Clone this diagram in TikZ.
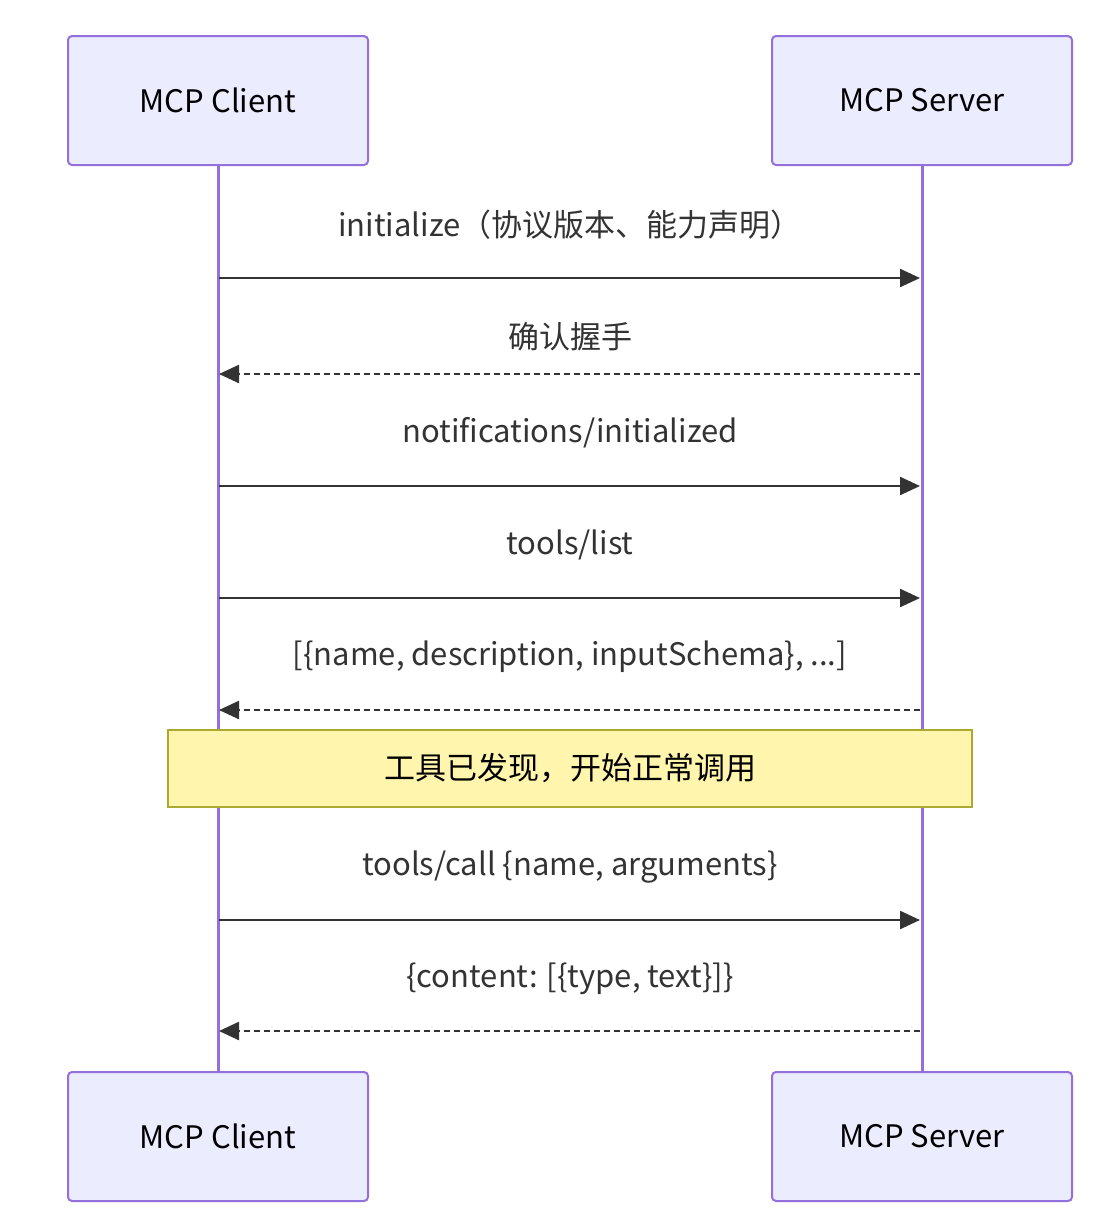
\documentclass[tikz,border=0pt]{standalone}
\usepackage{fontspec}
\setmainfont{Noto Sans CJK SC}
\usetikzlibrary{arrows.meta,positioning}
\definecolor{actfill}{HTML}{ECECFF}
\definecolor{actline}{HTML}{9370DB}
\definecolor{notefill}{HTML}{FFF5AD}
\definecolor{noteline}{HTML}{AAAA33}
\definecolor{msgline}{HTML}{333333}
\tikzset{
  actor/.style={draw=actline,fill=actfill,line width=1pt,rounded corners=2pt,minimum width=150pt,minimum height=64.5pt,font=\fontsize{15.5}{18}\selectfont},
  life/.style={draw=actline,line width=1.5pt},
  msg/.style={draw=msgline,line width=1.2pt,-{Triangle[length=10pt,width=9pt]}},
  reply/.style={msg,dash pattern=on 3pt off 2pt},
  lbl/.style={font=\fontsize{15.5}{18}\selectfont,text=msgline},
  note/.style={draw=noteline,fill=notefill,line width=0.6pt,minimum width=402pt,minimum height=38.5pt,font=\fontsize{15.5}{18}\selectfont}
}
\begin{document}
\begin{tikzpicture}[x=0.5pt,y=0.5pt,yscale=-1]
\useasboundingbox (0,0) rectangle (1102,1222);

% actors
\node[actor] (clientTop) at (218,100.5) {MCP Client};
\node[actor] (serverTop) at (922,100.5) {MCP Server};
\node[actor] (clientBot) at (218,1136.5) {MCP Client};
\node[actor] (serverBot) at (922,1136.5) {MCP Server};

% lifelines
\draw[life] (clientTop) -- (clientBot);
\draw[life] (serverTop) -- (serverBot);

% message anchors
\foreach \y/\n in {278/a,374/b,486/c,598/d,710/e,920/f,1031/g}{
  \coordinate (c\n) at (219,\y);
  \coordinate (s\n) at (920,\y);
}

% messages
\draw[msg] (ca) -- (sa);
\node[lbl] (la) at (570,225) {initialize（协议版本、能力声明）};
\draw[reply] (sb) -- (cb);
\node[lbl] (lb) at (570,337) {确认握手};
\draw[msg] (cc) -- (sc);
\node[lbl] (lc) at (570,433) {notifications/initialized};
\draw[msg] (cd) -- (sd);
\node[lbl] (ld) at (570,545) {tools/list};
\draw[reply] (se) -- (ce);
\node[lbl] (le) at (570,657) {[\{name, description, inputSchema\}, ...]};

% note
\node[note] (discover) at (570,768.5) {工具已发现，开始正常调用};

\draw[msg] (cf) -- (sf);
\node[lbl] (lf) at (570,867) {tools/call \{name, arguments\}};
\draw[reply] (sg) -- (cg);
\node[lbl] (lg) at (570,979) {\{content: [\{type, text\}]\}};

\end{tikzpicture}
\end{document}
